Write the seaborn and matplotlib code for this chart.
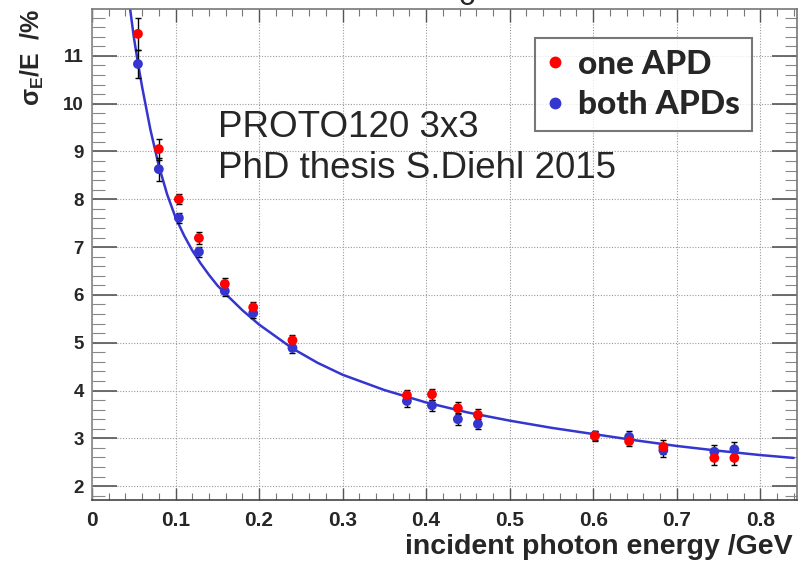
import numpy as np
import pandas as pd
import seaborn as sb
import matplotlib.pyplot as plt
from matplotlib.ticker import MultipleLocator

energy = [0.055, 0.080, 0.104, 0.128, 0.159, 0.193, 0.240, 0.377, 0.407,
          0.438, 0.462, 0.602, 0.643, 0.684, 0.745, 0.769]
oneAPD = [11.46, 9.05, 8.00, 7.19, 6.23, 5.74, 5.05, 3.90, 3.92,
          3.63, 3.49, 3.05, 2.94, 2.82, 2.59, 2.59]
oneAPD_err = [0.33, 0.22, 0.10, 0.12, 0.12, 0.12, 0.12, 0.12, 0.12,
              0.12, 0.12, 0.10, 0.10, 0.15, 0.15, 0.15]
bothAPD = [10.83, 8.63, 7.61, 6.90, 6.08, 5.62, 4.89, 3.78, 3.69,
           3.40, 3.30, 3.06, 3.03, 2.75, 2.72, 2.77]
bothAPD_err = [0.30, 0.24, 0.10, 0.10, 0.10, 0.10, 0.10, 0.12, 0.12,
               0.12, 0.10, 0.10, 0.12, 0.15, 0.15, 0.15]

# fit curve
fitX = [0.0455, 0.05, 0.055, 0.06, 0.07, 0.08, 0.09, 0.10, 0.11, 0.12, 0.13,
        0.14, 0.15, 0.16, 0.18, 0.20, 0.22, 0.24, 0.27, 0.30, 0.35, 0.40,
        0.45, 0.50, 0.55, 0.60, 0.65, 0.70, 0.75, 0.80, 0.84]
fitY = [12.0, 11.4, 10.85, 10.35, 9.45, 8.70, 8.10, 7.62, 7.25, 6.93, 6.66,
        6.42, 6.20, 6.02, 5.68, 5.38, 5.13, 4.88, 4.58, 4.33, 4.01, 3.75,
        3.54, 3.37, 3.22, 3.09, 2.96, 2.84, 2.74, 2.65, 2.59]

sb.set_style('white')
plt.rcParams['font.family'] = ['Liberation Sans', 'DejaVu Sans']
plt.rcParams['mathtext.fontset'] = 'custom'
plt.rcParams['mathtext.rm'] = 'Liberation Sans:bold'
plt.rcParams['mathtext.it'] = 'Liberation Sans:bold'
plt.rcParams['mathtext.bf'] = 'Liberation Sans:bold'

red = '#ff0000'
blue = '#3535d0'

fig = plt.figure(figsize=(8.09, 5.62), dpi=100)
ax = fig.add_axes([92/809, 1-500/562, (797-92)/809, (500-9)/562])

ax.grid(True, which='major', color='#9a9a9a', linestyle=(0, (1, 1.5)), lw=0.8)
ax.set_axisbelow(True)

sb.lineplot(x=fitX, y=fitY, color=blue, lw=1.8, ax=ax, zorder=2)

ax.errorbar(energy, oneAPD, yerr=oneAPD_err, fmt='none', ecolor='black',
            elinewidth=1, capsize=2.5, zorder=3)
ax.errorbar(energy, bothAPD, yerr=bothAPD_err, fmt='none', ecolor='black',
            elinewidth=1, capsize=2.5, zorder=3)

df = pd.DataFrame({'E': energy + energy,
                   'res': bothAPD + oneAPD,
                   'set': ['both APDs'] * len(energy) + ['one APD'] * len(energy)})
sb.scatterplot(data=df, x='E', y='res', hue='set',
               palette={'one APD': red, 'both APDs': blue},
               s=50, linewidth=0, ax=ax, zorder=4, legend=False)

ax.set_xlim(0, 0.844)
ax.set_ylim(1.71, 11.98)
ax.xaxis.set_minor_locator(MultipleLocator(0.02))
ax.yaxis.set_minor_locator(MultipleLocator(0.2))
ax.set_yticks(range(2, 12))
ax.set_xticks([0, 0.1, 0.2, 0.3, 0.4, 0.5, 0.6, 0.7, 0.8])
ax.set_xticklabels(['0', '0.1', '0.2', '0.3', '0.4', '0.5', '0.6', '0.7', '0.8'])
ax.tick_params(axis='x', which='major', direction='in', length=9, width=1,
               top=True, bottom=True, labelsize=15, color='#555555', pad=8)
ax.tick_params(axis='x', which='minor', direction='in', length=5, width=0.8,
               top=True, bottom=True, color='#777777')
ax.tick_params(axis='y', which='major', direction='in', length=18, width=1.2,
               left=True, right=True, labelsize=13.5, color='#555555', pad=6)
ax.tick_params(axis='y', which='minor', direction='in', length=9, width=0.8,
               left=True, right=True, color='#888888')
for lab in ax.get_xticklabels() + ax.get_yticklabels():
    lab.set_fontweight('bold')
for s in ax.spines.values():
    s.set_color('#777777')
    s.set_linewidth(1.2)
ax.spines['bottom'].set_color('#444444')
ax.spines['left'].set_color('#888888')
ax.set_xlabel('')
ax.set_ylabel('')

fig.text(793/809, 1-554/562, 'incident photon energy /GeV', ha='right',
         va='baseline', fontsize=20.5, fontweight='bold')
fig.text(32/809, 1-8/562, r'$\sigma_E$/E  /%', rotation=90, ha='center',
         va='top', fontsize=18, fontweight='bold')

ax.text(218/809, 1-137/562, 'PROTO120 3x3', transform=fig.transFigure,
        fontsize=26.5, va='baseline', ha='left')
ax.text(218/809, 1-178/562, 'PhD thesis S.Diehl 2015', transform=fig.transFigure,
        fontsize=26.5, va='baseline', ha='left')

# cut-off title glyph at the top edge
fig.text(467/809, 1-5/562, 'o', ha='center', va='baseline', fontsize=22)

h1 = plt.Line2D([], [], marker='o', color=red, ls='none', markersize=7.5)
h2 = plt.Line2D([], [], marker='o', color=blue, ls='none', markersize=7.5)
leg = ax.legend([h1, h2], ['one APD', 'both APDs'], loc='upper left',
                bbox_to_anchor=(535/809, 1-38/562), bbox_transform=fig.transFigure,
                prop={'family': 'Lato', 'weight': 'black', 'size': 24},
                frameon=True, fancybox=False, edgecolor='#555555',
                handlelength=0.5, handletextpad=0.45, borderpad=0.35,
                labelspacing=0.35, borderaxespad=0)
leg.get_frame().set_linewidth(1.5)

fig.savefig('out.png', dpi=100)
